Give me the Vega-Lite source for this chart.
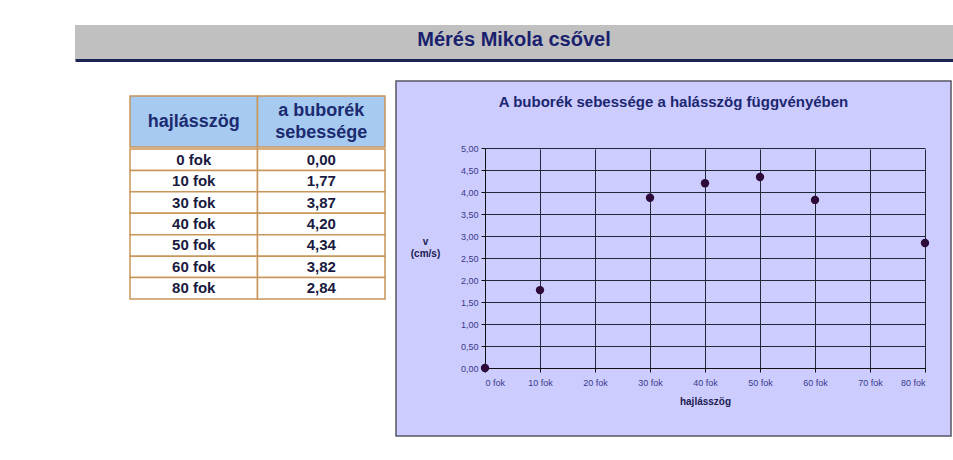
{
  "$schema": "https://vega.github.io/schema/vega-lite/v6.json",
  "background": "white",
  "padding": {"left": 75, "top": 25, "right": 0, "bottom": 0},
  "autosize": {"type": "pad"},
  "config": {"view": {"stroke": null}, "font": "Liberation Sans"},
  "datasets": {
    "meres": [
      {"szog": 0, "v": 0.0},
      {"szog": 10, "v": 1.77},
      {"szog": 30, "v": 3.87},
      {"szog": 40, "v": 4.2},
      {"szog": 50, "v": 4.34},
      {"szog": 60, "v": 3.82},
      {"szog": 80, "v": 2.84}
    ],
    "tabla": [
      {"hajlásszög": "0 fok", "a buborék sebessége": "0,00"},
      {"hajlásszög": "10 fok", "a buborék sebessége": "1,77"},
      {"hajlásszög": "30 fok", "a buborék sebessége": "3,87"},
      {"hajlásszög": "40 fok", "a buborék sebessége": "4,20"},
      {"hajlásszög": "50 fok", "a buborék sebessége": "4,34"},
      {"hajlásszög": "60 fok", "a buborék sebessége": "3,82"},
      {"hajlásszög": "80 fok", "a buborék sebessége": "2,84"}
    ],
    "fejlec": [
      {"oszlop": "hajlásszög", "felirat": "hajlásszög"},
      {"oszlop": "a buborék sebessége", "felirat": "a buborék\nsebessége"}
    ],
    "cim": [{"cim": "Mérés Mikola csővel"}]
  },
  "spacing": 20,
  "vconcat": [
    {
      "width": 878,
      "height": 35,
      "data": {"name": "cim"},
      "view": {"fill": "#c0c0c0", "stroke": null},
      "mark": {"type": "text", "fontSize": 20, "fontWeight": "bold", "color": "#1a1f6e", "dy": -3},
      "encoding": {
        "x": {"field": "cim", "type": "nominal", "axis": {"domainWidth": 3, "domainColor": "#1a2455", "labels": false, "ticks": false, "title": null, "grid": false}},
        "text": {"field": "cim"}
      }
    },
    {
      "spacing": 5,
      "hconcat": [
        {
          "spacing": 0,
          "vconcat": [
            {
              "width": 315,
              "height": 66,
              "data": {"name": "fejlec"},
              "encoding": {
                "x": {"field": "oszlop", "type": "nominal", "sort": null, "scale": {"range": [55, 310], "paddingInner": 0, "paddingOuter": 0}, "axis": null},
                "y": {"datum": "fejléc", "type": "nominal", "scale": {"range": [15, 66], "paddingInner": 0, "paddingOuter": 0}, "axis": null}
              },
              "layer": [
                {"mark": {"type": "rect", "fill": "#a6caf0", "stroke": "#c8955a", "strokeWidth": 1.5}},
                {
                  "transform": [{"filter": "datum.oszlop === 'hajlásszög'"}],
                  "mark": {"type": "text", "fontSize": 18, "fontWeight": "bold", "color": "#1c2a70"},
                  "encoding": {"text": {"field": "felirat"}}
                },
                {
                  "transform": [{"filter": "datum.oszlop !== 'hajlásszög'"}],
                  "mark": {"type": "text", "fontSize": 18, "fontWeight": "bold", "color": "#1c2a70", "lineBreak": "\n", "lineHeight": 22, "dy": -11},
                  "encoding": {"text": {"field": "felirat"}}
                }
              ]
            },
            {
              "width": 315,
              "height": 150,
              "data": {"name": "tabla"},
              "transform": [{"fold": ["hajlásszög", "a buborék sebessége"], "as": ["oszlop", "ertek"]}],
              "encoding": {
                "x": {"field": "oszlop", "type": "nominal", "sort": ["hajlásszög", "a buborék sebessége"], "scale": {"range": [55, 310], "paddingInner": 0, "paddingOuter": 0}, "axis": null},
                "y": {"field": "hajlásszög", "type": "nominal", "sort": null, "scale": {"paddingInner": 0, "paddingOuter": 0}, "axis": null}
              },
              "layer": [
                {"mark": {"type": "rect", "fill": "white", "stroke": "#c8955a", "strokeWidth": 1.5}},
                {"mark": {"type": "text", "fontSize": 15, "fontWeight": "bold", "color": "#1a1a40"}, "encoding": {"text": {"field": "ertek"}}}
              ]
            }
          ]
        },
        {
          "width": 555,
          "height": 355,
          "data": {"name": "meres"},
          "view": {"fill": "#ccccff", "stroke": "#555566", "strokeWidth": 1.5},
          "title": {"text": "A buborék sebessége a halásszög függvényében", "offset": -29, "anchor": "middle", "frame": "group", "fontSize": 15, "fontWeight": "bold", "color": "#1c2770"},
          "mark": {"type": "circle", "size": 70, "color": "#2e0a3a", "opacity": 1},
          "encoding": {
            "x": {
              "field": "szog", "type": "quantitative",
              "scale": {"domain": [0, 80], "range": [89, 529], "nice": false, "zero": false},
              "axis": {
                "values": [0, 10, 20, 30, 40, 50, 60, 70, 80], "offset": -68,
                "labelExpr": "datum.value + ' fok'", "title": "hajlásszög",
                "grid": true, "gridColor": "#1e2a3a", "gridOpacity": 1, "gridWidth": 1,
                "domainColor": "#111111", "tickColor": "#111111", "tickSize": 4,
                "labelFontSize": 9, "labelColor": "#3a3a8a", "labelPadding": 6,
                "titleFontSize": 10, "titleFontWeight": "bold", "titleColor": "#1c2050", "titlePadding": 9
              }
            },
            "y": {
              "field": "v", "type": "quantitative",
              "scale": {"domain": [0, 5], "range": [287, 67], "nice": false, "zero": false},
              "axis": {
                "values": [0, 0.5, 1, 1.5, 2, 2.5, 3, 3.5, 4, 4.5, 5], "offset": -89,
                "labelExpr": "replace(format(datum.value, '.2f'), '.', ',')",
                "title": ["v", "(cm/s)"], "titleAngle": 0, "titleX": -60, "titleY": 163, "titleAlign": "center", "titleBaseline": "alphabetic", "titleLineHeight": 12,
                "grid": true, "gridColor": "#1e2a3a", "gridOpacity": 1, "gridWidth": 1,
                "domainColor": "#111111", "tickColor": "#111111", "tickSize": 4,
                "labelFontSize": 9, "labelColor": "#3a3a8a", "labelPadding": 3,
                "titleFontSize": 10, "titleFontWeight": "bold", "titleColor": "#1c2050"
              }
            }
          }
        }
      ]
    }
  ]
}
